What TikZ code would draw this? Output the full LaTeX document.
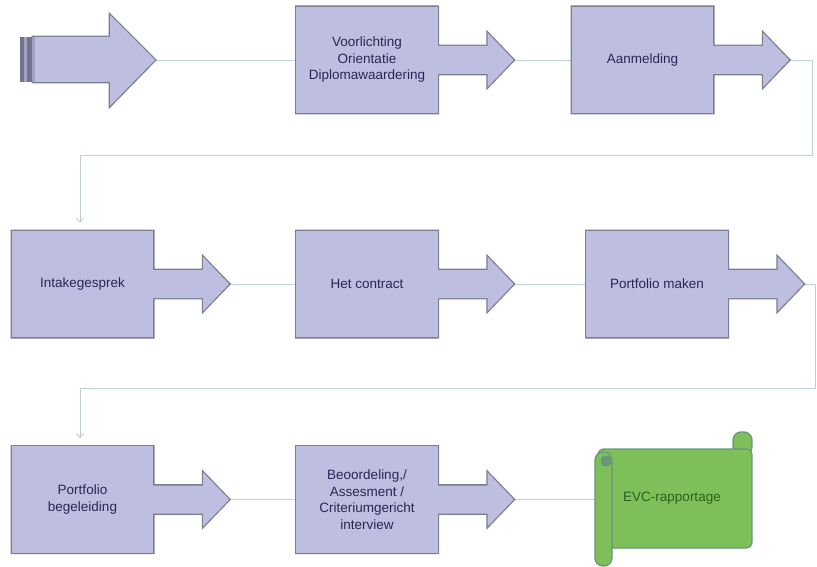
\documentclass[tikz,border=0pt]{standalone}
\usepackage{fontspec}
\setmainfont{Liberation Sans}
\usetikzlibrary{calc,positioning,backgrounds,arrows.meta}

\definecolor{boxfill}{RGB}{190,190,225}
\definecolor{boxline}{RGB}{125,125,145}
\definecolor{boxtext}{RGB}{40,40,85}
\definecolor{stripedark}{RGB}{115,115,140}
\definecolor{stripelight}{RGB}{160,160,195}
\definecolor{linkline}{RGB}{188,208,214}
\definecolor{scrollfill}{RGB}{125,192,90}
\definecolor{scrollline}{RGB}{105,150,125}
\definecolor{scrolltext}{RGB}{40,100,30}

\tikzset{
  stepbox/.style={rectangle, minimum width=141pt, minimum height=106pt, inner sep=0pt,
    align=center, text=boxtext, font=\fontsize{13.5}{16.5}\selectfont},
  stepline/.style={draw=boxline, line width=2.6pt, line join=miter},
  steparrow/.style={insert path={($(#1.east)+(-6,-14)$) -- ++(56,0) -- ++(0,-13)
    -- ++(26,27) -- ++(-26,27) -- ++(0,-13) -- ++(-56,0) -- cycle}},
  link/.style={draw=linkline, line width=0.9pt},
  linkarrow/.style={link, -{Straight Barb[length=4pt,width=7pt]}, shorten >=8pt},
  scrollshape/.style={draw=scrollline, fill=scrollfill, line width=1.3pt},
}

\begin{document}
\begin{tikzpicture}[x=1pt,y=-1pt]
\useasboundingbox (0,0) rectangle (817,567);

% first row
\node[stepbox] (vo) at (367,60) {Voorlichting\\Orientatie\\Diplomawaardering};
\node[stepbox] (aa) at (642.5,60) {Aanmelding};
% second row
\node[stepbox] (in) at (82.5,284) {Intakegesprek};
\node[stepbox] (hc) at (367,284) {Het contract};
\node[stepbox] (pm) at (657,284) {Portfolio maken};
% third row
\node[stepbox] (pb) at (82.5,499.5) {Portfolio\\begeleiding};
\node[stepbox] (bo) at (367,499.5) {Beoordeling,/\\Assesment /\\Criteriumgericht\\interview};
\node[font=\fontsize{13.5}{16.5}\selectfont, text=scrolltext] (ev) at (672,498) {EVC-rapportage};

\coordinate (start tip) at (155,60);
\coordinate (vo tip) at ($(vo.east)+(76,0)$);
\coordinate (aa tip) at ($(aa.east)+(76,0)$);
\coordinate (in tip) at ($(in.east)+(76,0)$);
\coordinate (hc tip) at ($(hc.east)+(76,0)$);
\coordinate (pm tip) at ($(pm.east)+(76,0)$);
\coordinate (pb tip) at ($(pb.east)+(76,0)$);
\coordinate (bo tip) at ($(bo.east)+(76,0)$);
\coordinate (bend1) at (812,155);
\coordinate (bend2) at (815,388);

\begin{scope}[on background layer]
% connectors
\draw[link] (start tip) -- (vo.west);
\draw[link] (vo tip) -- (aa.west);
\draw[link] (in tip) -- (hc.west);
\draw[link] (hc tip) -- (pm.west);
\draw[link] (pb tip) -- (bo.west);
\draw[link] (bo tip) -- (595,499.5);
\draw[linkarrow] (aa tip) -| (bend1) -| ([xshift=-2.5pt]in.north);
\draw[linkarrow] (pm tip) -| (bend2) -| ([xshift=-2.5pt]pb.north);

% start arrow
\draw[stepline] (33,37) -- (110,37) -- (110,15) -- (start tip) -- (110,106) -- (110,82) -- (33,82) -- cycle;
\fill[boxfill] (33,37) -- (110,37) -- (110,15) -- (start tip) -- (110,106) -- (110,82) -- (33,82) -- cycle;
\fill[stripedark] (20,37) rectangle (24,82);
\fill[stripelight] (24,37) rectangle (26.5,82);
\fill[stripedark] (26.5,37) rectangle (31.5,82);
\fill[stripelight] (31.5,37) rectangle (34.5,82);

% outlines
\draw[stepline] (vo.north west) rectangle (vo.south east) [steparrow=vo];
\draw[stepline] (aa.north west) rectangle (aa.south east) [steparrow=aa];
\draw[stepline] (in.north west) rectangle (in.south east) [steparrow=in];
\draw[stepline] (hc.north west) rectangle (hc.south east) [steparrow=hc];
\draw[stepline] (pm.north west) rectangle (pm.south east) [steparrow=pm];
\draw[stepline] (pb.north west) rectangle (pb.south east) [steparrow=pb];
\draw[stepline] (bo.north west) rectangle (bo.south east) [steparrow=bo];

% fills
\fill[boxfill] (vo.north west) rectangle (vo.south east); \fill[boxfill] (vo.east) [steparrow=vo];
\fill[boxfill] (aa.north west) rectangle (aa.south east); \fill[boxfill] (aa.east) [steparrow=aa];
\fill[boxfill] (in.north west) rectangle (in.south east); \fill[boxfill] (in.east) [steparrow=in];
\fill[boxfill] (hc.north west) rectangle (hc.south east); \fill[boxfill] (hc.east) [steparrow=hc];
\fill[boxfill] (pm.north west) rectangle (pm.south east); \fill[boxfill] (pm.east) [steparrow=pm];
\fill[boxfill] (pb.north west) rectangle (pb.south east); \fill[boxfill] (pb.east) [steparrow=pb];
\fill[boxfill] (bo.north west) rectangle (bo.south east); \fill[boxfill] (bo.east) [steparrow=bo];

% scroll
\draw[scrollshape, rounded corners=8] (733,432) rectangle (752,455);
\draw[scrollshape, rounded corners=6] (598,449) rectangle (752,548);
\draw[scrollshape, rounded corners=8] (595,452) rectangle (612,566);
\fill[scrollline, rounded corners=3] (601,456) rectangle (611,466);
\end{scope}

\end{tikzpicture}
\end{document}
